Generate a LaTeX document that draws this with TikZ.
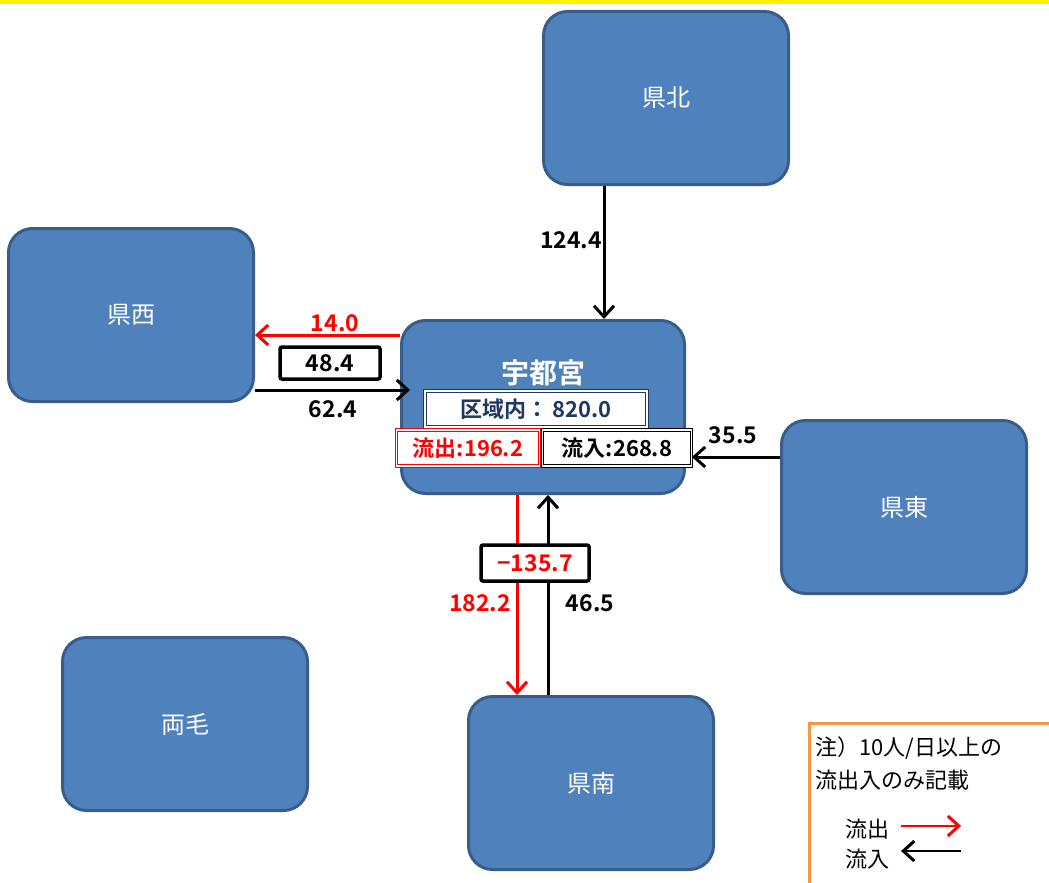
\documentclass[tikz,border=0pt]{standalone}
\usepackage{fontspec}
\setmainfont{Noto Sans CJK JP}[BoldFont={Noto Sans CJK JP Bold}]
\usepackage{tikz}
\usetikzlibrary{arrows.meta,positioning,calc}
\usepackage{xcolor}
\definecolor{areafill}{HTML}{4F81BD}
\definecolor{areaedge}{HTML}{385D8A}
\definecolor{innerblue}{HTML}{1F3864}
\definecolor{noteedge}{HTML}{F79646}
\definecolor{flowred}{HTML}{FF0000}

\begin{document}
\begin{tikzpicture}[x=1pt, y=-1pt, >={Straight Barb[length=11pt,width=20pt,line width=3pt]},
    area/.style={draw=areaedge, line width=3pt, fill=areafill, rounded corners=24pt,
      minimum width=245pt, minimum height=173pt, text=white, font=\fontsize{24}{27}\selectfont},
    flow/.style={->, line width=3pt},
    num/.style={font=\bfseries\fontsize{23}{25}\selectfont},
    netbox/.style={draw, line width=3.5pt, rounded corners=2pt, fill=white,
      minimum width=100pt, minimum height=32pt, inner sep=0pt, font=\bfseries\fontsize{23}{25}\selectfont},
    sumbox/.style={draw, line width=0.9pt, double=white, double distance=1.6pt, fill=white,
      minimum height=36pt, inner sep=0pt, font=\bfseries\fontsize{22}{24}\selectfont},
    note/.style={anchor=west, font=\fontsize{22}{25}\selectfont}]
\useasboundingbox (0,0) rectangle (1049,883);
\fill[yellow] (0,0) rectangle (1049,4);

% areas
\node[area] (kenpoku) at (666,98) {県北};
\node[area] (kensei) at (131,315) {県西};
\node[area, minimum width=283pt] (utsu) at (543,407) {};
\node[area] (kento) at (904,507) {県東};
\node[area] (ryomo) at (185,724) {両毛};
\node[area] (kennan) at (591,783) {県南};

% utsunomiya contents
\node[text=white, font=\bfseries\fontsize{28}{30}\selectfont] (utsuname) at (543,373) {宇都宮};
\node[sumbox, draw=innerblue, text=innerblue, minimum width=222pt] (inner) at (536,409) {区域内：\,820.0};
\node[sumbox, draw=flowred, text=flowred, minimum width=143pt] (outsum) at (468,448) {流出:196.2};
\node[sumbox, draw=black, minimum width=149pt] (insum) at (617,448) {流入:268.8};

% helper coordinates for flow positions
\coordinate (x604) at (604,0);
\coordinate (x517) at (517,0);
\coordinate (x548) at (548,0);
\coordinate (y335) at (0,335);
\coordinate (y390) at (0,390);
\coordinate (y457) at (0,457);

% flows
\draw[flow] (kenpoku.south -| x604) -- (utsu.north -| x604);
\node[num] (n124) at (571,240) {124.4};
\draw[flow, flowred] (utsu.west |- y335) -- (kensei.east |- y335);
\node[num, text=flowred] (n14) at (335,323) {14.0};
\draw[flow] (kensei.east |- y390) -- ($(utsu.west |- y390)+(10,0)$);
\node[num] (n62) at (333,409) {62.4};
\node[netbox] (net48) at (330,363) {48.4};
\draw[flow] (kento.west |- y457) -- (insum.east |- y457);
\node[num] (n35) at (733,435) {35.5};
\draw[flow, flowred] (utsu.south -| x517) -- (kennan.north -| x517);
\node[num, text=flowred] (n182) at (480,603) {182.2};
\draw[flow] (kennan.north -| x548) -- (utsu.south -| x548);
\node[num] (n46) at (590,603) {46.5};
\node[netbox, text=flowred, minimum width=108pt, minimum height=36pt] (net135) at (535,563) {−135.7};

% note
\draw[noteedge, line width=3pt] (809,723) rectangle (1065,900);
\node[note] (note1) at (812,748) {注）10人/日以上の};
\node[note] (note2) at (812,780) {流出入のみ記載};
\node[note] (keyout) at (842,829) {流出};
\node[note] (keyin) at (842,859) {流入};
\draw[flow, flowred, line width=2.5pt] ($(keyout.east)+(8,-3)$) -- ++(60,0);
\draw[flow, line width=2.5pt] ($(keyin.east)+(68,-8)$) -- ++(-60,0);
\end{tikzpicture}
\end{document}
